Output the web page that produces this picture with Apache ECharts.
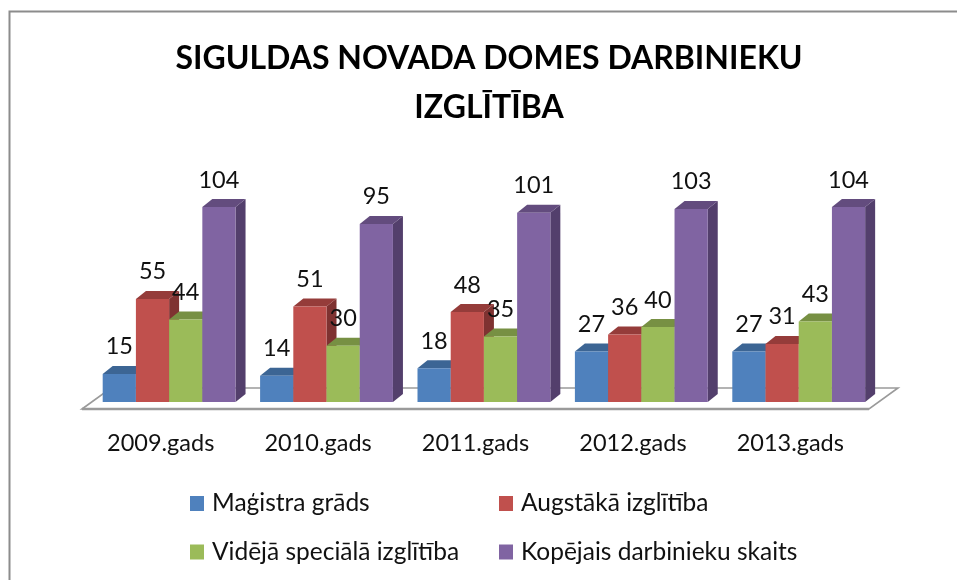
<!DOCTYPE html>
<html><head><meta charset="utf-8">
<script src="https://cdn.jsdelivr.net/npm/echarts@6/dist/echarts.min.js"></script>
<style>html,body{margin:0;padding:0;background:#fff}#c{width:957px;height:580px}</style>
</head><body><div id="c"></div>
<script>
const categories = ['2009.gads','2010.gads','2011.gads','2012.gads','2013.gads'];
const seriesNames = ['Maģistra grāds','Augstākā izglītība','Vidējā speciālā izglītība','Kopējais darbinieku skaits'];
const magistra = [15,14,18,27,27];
const augstaka = [55,51,48,36,31];
const videja = [44,30,35,40,43];
const kopejais = [104,95,101,103,104];
const titleText = 'SIGULDAS NOVADA DOMES DARBINIEKU\nIZGLĪTĪBA';
const font = 'Lato, "Noto Sans", sans-serif';
const palette = [
  {front:'#4F81BD', top:'#3C6594', side:'#34587F'},
  {front:'#C0504D', top:'#953C3A', side:'#7F3231'},
  {front:'#9BBB59', top:'#779043', side:'#677D3A'},
  {front:'#8064A2', top:'#634C7E', side:'#533F6C'}
];
const DX = 10, DY = 8;

function barRenderer(idx){
  return function(params, api){
    const c = api.value(0), v = api.value(1);
    const band = api.size([1,0])[0];
    const w = band * 0.211;
    const base = api.coord([c,0]), top = api.coord([c,v]);
    const x0 = base[0] + band*0.0535 - 2*w + idx*w, x1 = x0 + w;
    const yb = base[1], yt = top[1];
    const col = palette[idx];
    return {type:'group', children:[
      {type:'polygon', shape:{points:[[x1,yb],[x1+DX,yb-DY],[x1+DX,yt-DY],[x1,yt]]}, style:{fill:col.side}},
      {type:'polygon', shape:{points:[[x0,yt],[x0+DX,yt-DY],[x1+DX,yt-DY],[x1,yt]]}, style:{fill:col.top}},
      {type:'rect', shape:{x:x0,y:yt,width:w,height:yb-yt}, style:{fill:col.front}},
      {type:'text', z2:100, style:{text:String(v), x:(x0+x1)/2, y:yt-27, align:'center', verticalAlign:'middle',
        font:'23.5px '+font, fill:'#111'}}
    ]};
  };
}
function floorRenderer(params, api){
  const s = params.coordSys;
  const yf = s.y + s.height + 7, l = s.x, r = s.x + s.width;
  return {type:'group', children:[
    {type:'polygon', shape:{points:[[l,yf],[l+29,yf-21],[r+29,yf-21],[r,yf]]},
      style:{fill:'#fff', stroke:'#9a9a9a', lineWidth:1.6}},
    {type:'line', shape:{x1:l,y1:yf,x2:r,y2:yf}, style:{stroke:'#9a9a9a', lineWidth:2.6}}
  ]};
}
const seriesData = [magistra,augstaka,videja,kopejais];
const legendText = {fontFamily:font, fontSize:24.5, color:'#111', padding:[0,0,0,3]};
const chart = echarts.init(document.getElementById('c'), null, {renderer:'canvas'});
chart.setOption({
  animation:false,
  backgroundColor:'#fff',
  textStyle:{fontFamily:font},
  title:{text:titleText, left:484, top:29, textAlign:'center',
    textStyle:{fontFamily:font, fontWeight:'bold', fontSize:32, lineHeight:49, color:'#000'}},
  grid:{left:82, width:787, top:177, height:225, containLabel:false},
  xAxis:{type:'category', data:categories, axisLine:{show:false}, axisTick:{show:false},
    axisLabel:{fontFamily:font, fontSize:23.5, color:'#111', margin:29}},
  yAxis:{type:'value', min:0, max:120, show:false, splitLine:{show:false}},
  legend:[
    {orient:'vertical', left:190, top:491, padding:0, itemWidth:14, itemHeight:15, itemGap:23.5, icon:'rect',
      data:[seriesNames[0],seriesNames[2]], textStyle:legendText, selectedMode:false},
    {orient:'vertical', left:499, top:491, padding:0, itemWidth:14, itemHeight:15, itemGap:23.5, icon:'rect',
      data:[seriesNames[1],seriesNames[3]], textStyle:legendText, selectedMode:false}
  ],
  graphic:[{type:'polyline', silent:true, shape:{points:[[9.5,580],[9.5,11.5],[957,11.5]]},
    style:{fill:null, stroke:'#8c8c8c', lineWidth:2}}],
  series:[
    {type:'custom', name:'floor', renderItem:floorRenderer, data:[[0,0]], z:1, silent:true, encode:{x:0,y:1}},
    ...seriesNames.map((n,i)=>({
      type:'custom', name:n, z:2+i, renderItem:barRenderer(i),
      itemStyle:{color:palette[i].front},
      encode:{x:0,y:1},
      data:seriesData[i].map((v,k)=>[k,v])
    }))
  ]
});
</script></body></html>
